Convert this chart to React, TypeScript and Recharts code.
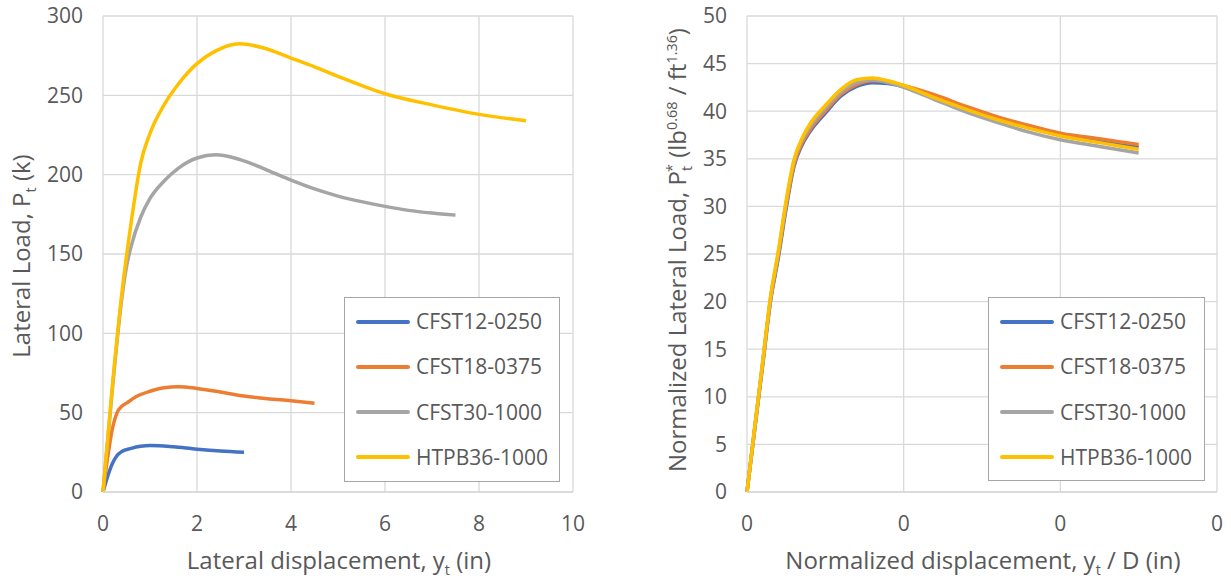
import React from 'react';
import { LineChart, Line, XAxis, YAxis, CartesianGrid, Legend } from 'recharts';

// Left chart: lateral load vs. lateral displacement
const blueX = [0, 0.1, 0.2, 0.3, 0.4, 0.6, 0.8, 1.0, 1.2, 1.5, 2.0, 2.5, 3.0];
const blueY = [0, 10, 18, 23, 25.5, 27.5, 28.8, 29.3, 29.2, 28.5, 27, 25.8, 25];

const orangeX = [0, 0.1, 0.2, 0.3, 0.4, 0.5, 0.7, 1.0, 1.3, 1.6, 2.0, 2.5, 3.0, 3.5, 4.0, 4.5];
const orangeY = [0, 22, 40, 50, 54, 56, 60, 63.5, 65.7, 66.3, 65.3, 63, 60.5, 58.8, 57.5, 56];

const grayX = [0, 0.2, 0.4, 0.5, 0.6, 0.8, 1.0, 1.3, 1.6, 2.0, 2.4, 2.8, 3.2, 3.6, 4.0, 4.5, 5.0, 5.5, 6.0, 6.5, 7.0, 7.5];
const grayY = [0, 65, 122, 142, 155, 173, 185, 196, 204, 210.5, 212.5, 210.5, 206.5, 201.5, 196.5, 191, 186.5, 183, 180, 177.5, 175.8, 174.5];

const yellowX = [0, 0.2, 0.4, 0.6, 0.8, 1.0, 1.3, 1.6, 2.0, 2.4, 2.9, 3.4, 4.0, 4.5, 5.0, 6.0, 7.0, 8.0, 9.0];
const yellowY = [0, 67, 125, 170, 207, 226, 244, 257, 270, 278, 282.5, 280, 273.5, 268, 262, 251, 244, 238, 234];

// Right chart: normalized load vs. normalized displacement
const normX = [0, 0.005, 0.01, 0.015, 0.02, 0.025, 0.03, 0.035, 0.04, 0.05, 0.06, 0.07, 0.08, 0.09, 0.1, 0.12, 0.14, 0.16, 0.18, 0.2, 0.225, 0.25];
const normBlue = [0, 6.7, 13.3, 20, 24.6, 29.8, 34.2, 36.4, 37.8, 39.8, 41.6, 42.6, 43.0, 42.9, 42.6, 41.5, 40.3, 39.2, 38.3, 37.5, 36.8, 36.2];
const normOrange = [0, 6.8, 13.5, 20.2, 24.9, 30.1, 34.4, 36.6, 38.0, 40.0, 41.8, 42.8, 43.2, 43.1, 42.7, 41.7, 40.5, 39.4, 38.5, 37.7, 37.1, 36.5];
const normGray = [0, 6.8, 13.6, 20.3, 25.1, 30.4, 34.7, 36.9, 38.3, 40.3, 42.0, 43.0, 43.3, 43.0, 42.5, 41.2, 39.9, 38.8, 37.8, 37.0, 36.3, 35.6];
const normYellow = [0, 6.9, 13.7, 20.5, 25.3, 30.6, 34.9, 37.1, 38.6, 40.6, 42.3, 43.3, 43.5, 43.2, 42.7, 41.4, 40.2, 39.1, 38.2, 37.4, 36.7, 36.0];

const seriesNames = ['CFST12-0250', 'CFST18-0375', 'CFST30-1000', 'HTPB36-1000'];
const colors = ['#4472C4', '#ED7D31', '#A5A5A5', '#FFC000'];

const leftXTicks = [0, 2, 4, 6, 8, 10];
const leftYTicks = [0, 50, 100, 150, 200, 250, 300];
const rightXTicks = [0, 0.1, 0.2, 0.3];
const rightYTicks = [0, 5, 10, 15, 20, 25, 30, 35, 40, 45, 50];

const FONT = "'Open Sans', sans-serif";
const TEXT = '#595959';
const GRID = '#d9d9d9';

const zip = (xs: number[], ys: number[]) => xs.map((x, i) => ({ x, y: ys[i] }));

const leftSeries = [zip(blueX, blueY), zip(orangeX, orangeY), zip(grayX, grayY), zip(yellowX, yellowY)];
const rightSeries = [zip(normX, normBlue), zip(normX, normOrange), zip(normX, normGray), zip(normX, normYellow)];

const LegendBox = ({ payload }: any) => (
  <div
    style={{
      boxSizing: 'border-box',
      width: '100%',
      height: '100%',
      border: '1.5px solid #a6a6a6',
      background: '#fff',
      paddingTop: 1,
      fontFamily: FONT,
    }}
  >
    {(payload || []).map((entry: any, i: number) => (
      <div key={i} style={{ position: 'relative', height: 45.3 }}>
        <div
          style={{
            position: 'absolute',
            left: 11,
            top: 20.6,
            width: 54,
            height: 4,
            background: entry.color,
            borderRadius: 2,
          }}
        />
        <div
          style={{
            position: 'absolute',
            left: 71,
            top: 0,
            lineHeight: '45.3px',
            fontSize: 21,
            color: TEXT,
            whiteSpace: 'nowrap',
          }}
        >
          {entry.value}
        </div>
      </div>
    ))}
  </div>
);

const tickStyle = { fill: TEXT, fontSize: 21, fontFamily: FONT };

const App = () => {
  return (
    <div style={{ position: 'absolute', left: 0, top: 0, width: 1231, height: 581, background: '#fff', fontFamily: FONT }}>
      <div style={{ position: 'absolute', left: 0, top: 0 }}>
        <LineChart width={600} height={581} margin={{ top: 16, right: 27, bottom: 0, left: 0 }}>
          <CartesianGrid stroke={GRID} strokeWidth={1.3} />
          <XAxis
            type="number"
            dataKey="x"
            domain={[0, 10]}
            ticks={leftXTicks}
            height={89}
            tickSize={0}
            tickMargin={24}
            axisLine={{ stroke: GRID, strokeWidth: 1.3 }}
            tickLine={false}
            tick={tickStyle}
          />
          <YAxis
            type="number"
            domain={[0, 300]}
            ticks={leftYTicks}
            width={103}
            tickSize={0}
            tickMargin={20}
            axisLine={false}
            tickLine={false}
            tick={tickStyle}
          />
          {leftSeries.map((d, i) => (
            <Line
              key={seriesNames[i]}
              data={d}
              dataKey="y"
              name={seriesNames[i]}
              type="monotone"
              stroke={colors[i]}
              strokeWidth={3.5}
              dot={false}
              isAnimationActive={false}
            />
          ))}
          <Legend
            layout="vertical"
            align="center"
            verticalAlign="middle"
            content={<LegendBox />}
            wrapperStyle={{ left: 344, top: 297, width: 216, height: 185 }}
          />
        </LineChart>
      </div>

      <div style={{ position: 'absolute', left: 620, top: 0 }}>
        <LineChart width={611} height={581} margin={{ top: 16, right: 14, bottom: 0, left: 0 }}>
          <CartesianGrid stroke={GRID} strokeWidth={1.3} />
          <XAxis
            type="number"
            dataKey="x"
            domain={[0, 0.3]}
            ticks={rightXTicks}
            tickFormatter={(v: number) => v.toFixed(0)}
            height={89}
            tickSize={0}
            tickMargin={24}
            axisLine={{ stroke: GRID, strokeWidth: 1.3 }}
            tickLine={false}
            tick={tickStyle}
          />
          <YAxis
            type="number"
            domain={[0, 50]}
            ticks={rightYTicks}
            width={127}
            tickSize={0}
            tickMargin={20}
            axisLine={false}
            tickLine={false}
            tick={tickStyle}
          />
          {rightSeries.map((d, i) => (
            <Line
              key={seriesNames[i]}
              data={d}
              dataKey="y"
              name={seriesNames[i]}
              type="monotone"
              stroke={colors[i]}
              strokeWidth={3.5}
              dot={false}
              isAnimationActive={false}
            />
          ))}
          <Legend
            layout="vertical"
            align="center"
            verticalAlign="middle"
            content={<LegendBox />}
            wrapperStyle={{ left: 368, top: 297, width: 217, height: 184 }}
          />
        </LineChart>
      </div>

      {/* axis titles */}
      <div style={{ position: 'absolute', left: 339, top: 561, transform: 'translate(-50%, -50%)', fontSize: 24, color: TEXT, whiteSpace: 'nowrap' }}>
        Lateral displacement, y<sub style={{ fontSize: '0.6em' }}>t</sub> (in)
      </div>
      <div style={{ position: 'absolute', left: 983, top: 561, transform: 'translate(-50%, -50%)', fontSize: 24, color: TEXT, whiteSpace: 'nowrap' }}>
        Normalized displacement, y<sub style={{ fontSize: '0.6em' }}>t</sub> / D (in)
      </div>
      <div style={{ position: 'absolute', left: 22, top: 256, transform: 'translate(-50%, -50%) rotate(-90deg)', fontSize: 24, color: TEXT, whiteSpace: 'nowrap' }}>
        Lateral Load, P<sub style={{ fontSize: '0.6em' }}>t</sub> (k)
      </div>
      <div style={{ position: 'absolute', left: 678, top: 250, transform: 'translate(-50%, -50%) rotate(-90deg)', fontSize: 24, color: TEXT, whiteSpace: 'nowrap' }}>
        Normalized Lateral Load, P<sub style={{ fontSize: '0.6em' }}>t</sub>
        <sup style={{ fontSize: '0.6em', marginLeft: -6 }}>*</sup> (lb<sup style={{ fontSize: '0.6em' }}>0.68</sup> / ft
        <sup style={{ fontSize: '0.6em' }}>1.36</sup>)
      </div>
    </div>
  );
};

export default App;
